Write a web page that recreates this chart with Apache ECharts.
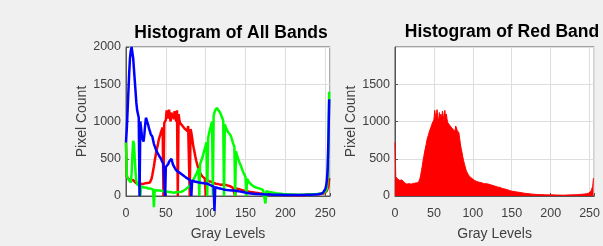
<!DOCTYPE html>
<html>
<head>
<meta charset="utf-8">
<script src="https://cdn.jsdelivr.net/npm/echarts@6/dist/echarts.min.js"></script>
<style>
  html, body { margin: 0; padding: 0; background: #f0f0f0; }
  #chart1 { width: 603px; height: 246px; }
</style>
</head>
<body>
<div id="chart1"></div>
<script>
// 灰度级 0..255 的像素计数
const grayTicks = [0, 50, 100, 150, 200, 250];
const countTicks = [0, 500, 1000, 1500, 2000];

// 红色通道 (右图)
const redCounts = [
  720, 260, 245, 230, 250, 220, 210, 230, 200, 215, 190, 205, 180, 175, 190, 160,
  150, 175, 165, 150, 170, 160, 175, 165, 170, 180, 165, 175, 170, 185, 180, 200,
  230, 280, 340, 400, 470, 530, 590, 640, 690, 750, 790, 820, 860, 880, 920, 950,
  980, 1000, 1020, 1150, 1080, 1040, 1160, 1060, 1000, 1120, 1050, 1100, 1030, 1140, 1080, 1000,
  1150, 1060, 1100, 1020, 980, 1000, 960, 940, 920, 950, 900, 880, 910, 870, 940, 920,
  880, 900, 850, 780, 700, 640, 590, 530, 480, 440, 400, 360, 330, 310, 290, 275,
  260, 250, 245, 235, 225, 220, 210, 205, 200, 195, 190, 190, 185, 180, 175, 180,
  170, 165, 165, 160, 160, 165, 155, 150, 160, 165, 155, 150, 145, 150, 140, 135,
  140, 130, 125, 130, 120, 115, 110, 115, 105, 100, 100, 95, 90, 95, 85, 80,
  85, 80, 75, 75, 70, 70, 65, 65, 60, 60, 58, 55, 55, 52, 50, 50,
  48, 45, 45, 42, 40, 40, 38, 36, 35, 34, 33, 32, 30, 30, 28, 28,
  26, 25, 25, 24, 22, 22, 21, 20, 20, 20, 19, 20, 18, 18, 19, 18,
  17, 18, 17, 16, 17, 16, 15, 16, 18, 17, 15, 14, 15, 16, 14, 13,
  14, 13, 12, 14, 13, 12, 13, 12, 11, 12, 13, 12, 12, 13, 14, 13,
  14, 15, 14, 15, 16, 15, 17, 16, 18, 17, 18, 20, 19, 21, 22, 22,
  23, 24, 25, 26, 27, 28, 30, 32, 35, 38, 45, 55, 70, 90, 130, 240
];
// 左图红线里掉到 0 的灰度级
const redDrops = [47, 65, 80, 100, 137];

const greenCounts = [
  720, 280, 240, 220, 210, 200, 180, 300, 550, 740, 700, 500, 320, 200, 160, 150,
  140, 130, 0, 130, 120, 125, 115, 120, 110, 115, 105, 110, 100, 105, 95, 100,
  90, 95, 85, -150, 80, 85, 80, 75, 80, 70, 75, 70, 65, 70, 60, 65,
  60, 65, 55, 60, 55, 50, 55, 50, 45, 50, 45, 40, 45, 40, 45, 50,
  45, 50, 55, 50, 60, 55, 65, 60, 70, 80, 75, 90, 100, 110, 120, 125,
  130, 150, 170, 190, 210, 230, 250, 270, 290, 310, 340, 370, 0, 430, 460, 490,
  520, 560, 600, 640, 680, 720, 0, 780, 830, 880, 920, 960, 1000, 0, 1080, 1120,
  1150, 1170, 1180, 1160, 1150, 1140, 1120, 1100, 1070, 1040, 1010, 0, 960, 930, 900, 880,
  860, 840, 850, 820, 790, 760, 720, 690, 660, 0, 600, 560, 520, 490, 460, 440,
  410, 380, 350, 330, 300, 280, 255, 0, 230, 210, 190, 175, 165, 155, 145, 135,
  130, 125, 120, 115, 110, 108, 105, 100, 100, 95, 90, 85, 80, 75, 70, -100,
  65, 60, 58, 55, 55, 52, 50, 48, 45, 43, 40, 38, 36, 35, 34, 33,
  32, 30, 30, 28, 28, 26, 25, 25, 24, 23, 22, 22, 21, 20, 20, 20,
  19, 19, 18, 18, 18, 17, 17, 17, 17, 16, 16, 16, 16, 17, 17, 17,
  18, 18, 18, 19, 19, 20, 20, 21, 21, 22, 22, 23, 24, 24, 25, 26,
  27, 28, 29, 30, 32, 34, 36, 38, 42, 48, 55, 70, 100, 200, 700, 1400
];

const blueCounts = [
  720, 900, 1150, 1400, 1650, 1850, 1950, 2000, 1980, 1850, 1700, 1550, 1400, 1250, 1150, 1100,
  1050, 0, 1000, 900, 800, 760, 730, 820, 950, 1050, 1020, 980, 950, 900, 870, 830,
  850, 800, 750, 700, 670, 640, 610, 590, 570, 550, 530, 520, 500, 470, 450, 430,
  410, 0, 390, 390, 400, 430, 460, 440, 480, 500, 460, 420, 400, 380, 360, 345,
  340, 330, 320, 315, 310, 300, 290, 285, 275, 265, 260, 250, 245, 240, 230, 225,
  215, 210, 0, 205, 200, 198, 195, 192, 190, 188, 185, 182, 180, 178, 175, 175,
  172, 172, 170, 170, 170, 168, 165, 160, 155, 150, 145, 140, 135, 130, 125, -200,
  120, 115, 112, 108, 105, 102, 100, 98, 95, 92, 90, 88, 85, 83, 81, 80,
  80, 79, 78, 78, 76, 75, 75, 74, 73, 72, 70, 68, 66, 64, 62, 60,
  58, 56, 54, 52, 50, 48, 46, 44, 42, 40, 38, 36, 35, 34, 33, 32,
  30, 29, 28, 28, 27, 26, 26, 25, 25, 24, 24, 23, 23, 22, 22, 21,
  21, 21, 20, 20, 20, 19, 19, 19, 18, 18, 18, 18, 17, 17, 17, 17,
  16, 16, 16, 16, 16, 15, 15, 15, 15, 15, 15, 15, 14, 14, 14, 14,
  14, 14, 14, 14, 14, 14, 14, 14, 14, 15, 15, 15, 15, 15, 15, 15,
  16, 16, 16, 16, 17, 17, 17, 18, 18, 18, 19, 19, 20, 20, 21, 22,
  23, 24, 25, 27, 29, 32, 36, 42, 50, 65, 90, 130, 200, 350, 750, 1300
];

const toPairs = arr => arr.map((v, i) => [i, v]);
const redAll = redCounts.map((v, i) => [i, redDrops.indexOf(i) >= 0 ? 0 : v]);

const font = '"Liberation Sans", Arial, sans-serif';
const axisGray = '#555';

function xAx (gridIndex) {
  return {
    type: 'value', gridIndex, min: 0, max: 256, interval: 50,
    name: 'Gray Levels', nameLocation: 'middle', nameGap: 31,
    nameTextStyle: { fontFamily: font, fontSize: 14, color: '#404040' },
    axisLine: { lineStyle: { color: axisGray } },
    axisTick: { inside: true, length: 3, lineStyle: { color: axisGray } },
    axisLabel: { fontFamily: font, fontSize: 12.5, color: '#404040', margin: 11,
      formatter: v => (grayTicks.indexOf(v) >= 0 ? String(v) : '') },
    splitLine: { show: true, lineStyle: { color: '#dedede' } }
  };
}
function yAx (gridIndex, showMax) {
  return {
    type: 'value', gridIndex, min: 0, max: 2000, interval: 500,
    name: 'Pixel Count', nameLocation: 'middle', nameGap: 37,
    nameTextStyle: { fontFamily: font, fontSize: 14, color: '#404040' },
    axisLine: { show: true, lineStyle: { color: axisGray } },
    axisTick: { show: true, inside: true, length: 3, lineStyle: { color: axisGray } },
    axisLabel: { fontFamily: font, fontSize: 12.5, color: '#404040', margin: 5, showMaxLabel: showMax,
      formatter: v => (countTicks.indexOf(v) >= 0 ? String(v) : '') },
    splitLine: { show: true, lineStyle: { color: '#dedede' } }
  };
}

const option = {
  backgroundColor: '#f0f0f0',
  animation: false,
  title: [
    { text: 'Histogram of All Bands', left: 226, top: 19, textAlign: 'center',
      textStyle: { fontFamily: font, fontSize: 17.5, fontWeight: 'bold', color: '#000' } },
    { text: 'Histogram of Red Band', left: 497, top: 18, textAlign: 'center',
      textStyle: { fontFamily: font, fontSize: 17.5, fontWeight: 'bold', color: '#000' } }
  ],
  grid: [
    { left: 126, top: 47, width: 204, height: 149, show: true, backgroundColor: '#fff', borderColor: axisGray, borderWidth: 1 },
    { left: 395, top: 47, width: 204, height: 149, show: true, backgroundColor: '#fff', borderColor: axisGray, borderWidth: 1 }
  ],
  xAxis: [xAx(0), xAx(1)],
  yAxis: [yAx(0, true), yAx(1, false)],
  series: [
    { name: 'red', type: 'line', xAxisIndex: 0, yAxisIndex: 0, data: redAll, showSymbol: false, clip: false,
      lineStyle: { color: '#f00', width: 2.5 } },
    { name: 'green', type: 'line', xAxisIndex: 0, yAxisIndex: 0, data: toPairs(greenCounts), showSymbol: false, clip: false,
      lineStyle: { color: '#0f0', width: 2.5 } },
    { name: 'blue', type: 'line', xAxisIndex: 0, yAxisIndex: 0, data: toPairs(blueCounts), showSymbol: false, clip: false,
      lineStyle: { color: '#00f', width: 2.5 } },
    { name: 'redBand', type: 'line', xAxisIndex: 1, yAxisIndex: 1, data: toPairs(redCounts), showSymbol: false,
      lineStyle: { color: '#f00', width: 1 }, areaStyle: { color: '#f00', opacity: 1 } }
  ]
};

const mycharts = echarts.init(document.getElementById('chart1'));
mycharts.setOption(option);
</script>
</body>
</html>
